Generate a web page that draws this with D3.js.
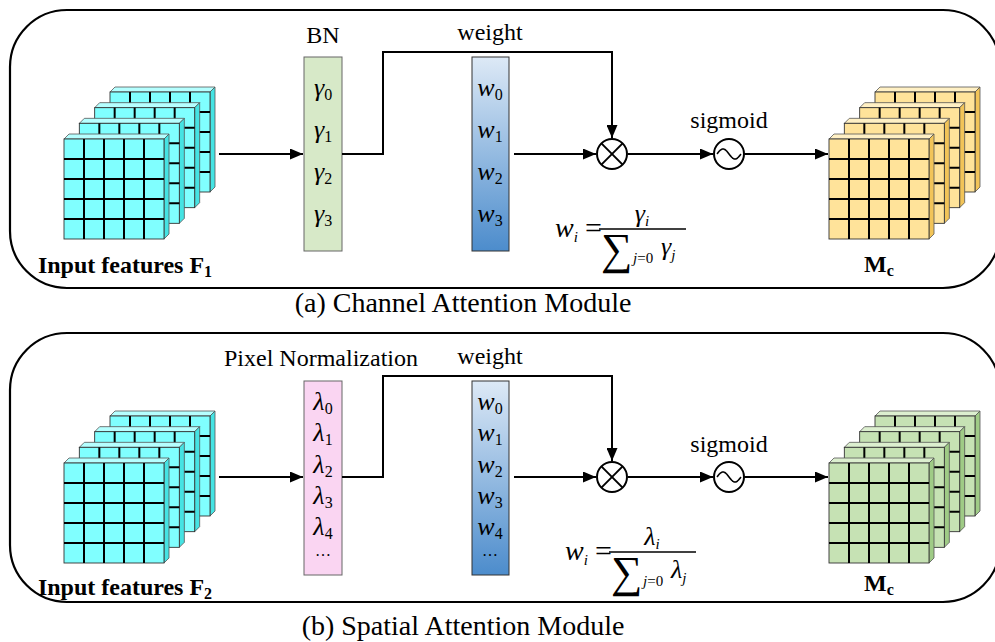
<!DOCTYPE html>
<html>
<head>
<meta charset="utf-8">
<script src="https://cdn.jsdelivr.net/npm/d3@7"></script>
<style>
  body { margin: 0; background: #fff; }
  svg { display: block; }
  text { font-family: "Liberation Serif", "Times New Roman", serif; fill: #000; }
</style>
</head>
<body>
<div id="chart"></div>
<script>
// labels of the two modules
var captions = ["(a) Channel Attention Module", "(b) Spatial Attention Module"];
var normLabels = ["BN", "Pixel Normalization"];
var paramSymbols = ["\u03b3", "\u03bb"];
var channelSubs = ["0", "1", "2", "3"];
var spatialSubs = ["0", "1", "2", "3", "4", "\u2026"];
var inputSubs = ["1", "2"];
var gridIdx = [0, 1, 2, 3, 4];
var layers = [3, 2, 1, 0];

var cyan = {front: "#80ffff", side: "#45e3e3", top: "#b5ffff"};
var yellow = {front: "#ffe39a", side: "#f2c458", top: "#fff0c4"};
var green = {front: "#c6e2b4", side: "#9fcb86", top: "#dcefcf"};

var width = 995, height = 642;

var svg = d3.select("#chart").append("svg")
    .attr("width", width)
    .attr("height", height);

svg.append("rect").attr("width", width).attr("height", height).attr("fill", "#fff");

var defs = svg.append("defs");
defs.append("marker")
    .attr("id", "arr")
    .attr("markerUnits", "userSpaceOnUse")
    .attr("markerWidth", 13).attr("markerHeight", 11)
    .attr("refX", 13).attr("refY", 5.5)
    .attr("orient", "auto")
  .append("path")
    .attr("d", "M0,0L13,5.5L0,11Z")
    .attr("fill", "#000");

var grad = defs.append("linearGradient")
    .attr("id", "wgrad").attr("x1", 0).attr("y1", 0).attr("x2", 0).attr("y2", 1);
grad.append("stop").attr("offset", "0%").attr("stop-color", "#dde9f6");
grad.append("stop").attr("offset", "100%").attr("stop-color", "#4c8ccc");

function cubeStack(g, x0, y0, col) {
  var cell = d3.scaleBand().domain(gridIdx).range([0, 100]);
  var shiftX = d3.scaleLinear().domain([0, 3]).range([0, 46]);
  var shiftY = d3.scaleLinear().domain([0, 3]).range([0, -47]);
  var d = 5, s = 100;
  layers.forEach(function(l) {
    var x = x0 + shiftX(l), y = y0 + shiftY(l);
    var lg = g.append("g");
    lg.append("path")
        .attr("d", "M" + x + "," + y + "L" + (x + d) + "," + (y - d) + "L" + (x + s + d) + "," + (y - d) + "L" + (x + s) + "," + y + "Z")
        .attr("fill", col.top).attr("stroke", "#555").attr("stroke-width", 0.8);
    lg.append("path")
        .attr("d", "M" + (x + s) + "," + y + "L" + (x + s + d) + "," + (y - d) + "L" + (x + s + d) + "," + (y + s - d) + "L" + (x + s) + "," + (y + s) + "Z")
        .attr("fill", col.side).attr("stroke", "#555").attr("stroke-width", 0.8);
    lg.append("rect")
        .attr("x", x).attr("y", y).attr("width", s).attr("height", s)
        .attr("fill", col.front).attr("stroke", "#333").attr("stroke-width", 0.9);
    lg.selectAll("line.v").data(gridIdx.slice(1)).join("line")
        .attr("class", "v")
        .attr("x1", function(i) { return x + cell(i); })
        .attr("x2", function(i) { return x + cell(i); })
        .attr("y1", y).attr("y2", y + s)
        .attr("stroke", "#000").attr("stroke-width", 2);
    lg.selectAll("line.h").data(gridIdx.slice(1)).join("line")
        .attr("class", "h")
        .attr("y1", function(i) { return y + cell(i); })
        .attr("y2", function(i) { return y + cell(i); })
        .attr("x1", x).attr("x2", x + s)
        .attr("stroke", "#000").attr("stroke-width", 2);
  });
}

function paramColumn(g, cx, subs, sym, yScale) {
  subs.forEach(function(s, i) {
    var t = g.append("text").attr("x", cx).attr("text-anchor", "middle");
    if (s === "\u2026") {
      var step = yScale(1) - yScale(0);
      t.attr("y", yScale(i - 1) + step * 0.68).attr("font-size", 16).text(s);
    } else {
      t.attr("y", yScale(i));
      t.append("tspan").attr("font-size", 26).attr("font-style", "italic").text(sym);
      t.append("tspan").attr("font-size", 16).attr("dy", 4).text(s);
    }
  });
}

function arrowLine(g, pts, marker) {
  var p = g.append("path")
      .attr("d", d3.line()(pts))
      .attr("fill", "none").attr("stroke", "#000").attr("stroke-width", 2);
  if (marker) p.attr("marker-end", "url(#arr)");
}

function formula(g, x, y, sym) {
  var t = g.append("text").attr("x", x).attr("y", y + 8);
  t.append("tspan").attr("font-size", 28).attr("font-style", "italic").text("w");
  t.append("tspan").attr("font-size", 15).attr("font-style", "italic").attr("dy", 5).text("i");
  g.append("text").attr("x", x + 30).attr("y", y + 9).attr("font-size", 30).text("=");
  g.append("line").attr("x1", x + 44).attr("x2", x + 131).attr("y1", y).attr("y2", y)
      .attr("stroke", "#000").attr("stroke-width", 1.3);
  var num = g.append("text").attr("x", x + 87).attr("y", y - 7).attr("text-anchor", "middle");
  num.append("tspan").attr("font-size", 26).attr("font-style", "italic").text(sym);
  num.append("tspan").attr("font-size", 15).attr("font-style", "italic").attr("dy", 4).text("i");
  g.append("text").attr("x", x + 46).attr("y", y + 35).attr("font-size", 44).text("\u2211");
  var lim = g.append("text").attr("x", x + 78).attr("y", y + 34).attr("font-size", 15);
  lim.append("tspan").attr("font-style", "italic").text("j");
  lim.append("tspan").text("=0");
  var den = g.append("text").attr("x", x + 106).attr("y", y + 26);
  den.append("tspan").attr("font-size", 26).attr("font-style", "italic").text(sym);
  den.append("tspan").attr("font-size", 15).attr("font-style", "italic").attr("dy", 5).text("j");
}

function multiplier(g, cx, cy, r) {
  g.append("circle").attr("cx", cx).attr("cy", cy).attr("r", r)
      .attr("fill", "#fff").attr("stroke", "#000").attr("stroke-width", 2);
  var k = r * Math.SQRT1_2;
  g.append("line").attr("x1", cx - k).attr("y1", cy - k).attr("x2", cx + k).attr("y2", cy + k)
      .attr("stroke", "#000").attr("stroke-width", 2);
  g.append("line").attr("x1", cx - k).attr("y1", cy + k).attr("x2", cx + k).attr("y2", cy - k)
      .attr("stroke", "#000").attr("stroke-width", 2);
}

function sigmoid(g, cx, cy, r) {
  g.append("circle").attr("cx", cx).attr("cy", cy).attr("r", r)
      .attr("fill", "#fff").attr("stroke", "#000").attr("stroke-width", 2);
  var wave = d3.range(-1, 1.001, 0.05).map(function(t) {
    return [cx + t * (r - 3), cy + 5 * Math.sin(Math.PI * t)];
  });
  g.append("path").attr("d", d3.line().curve(d3.curveBasis)(wave))
      .attr("fill", "none").attr("stroke", "#000").attr("stroke-width", 1.6);
}

function drawModule(k) {
  var oy = k === 0 ? 0 : 324;
  var g = svg.append("g").attr("transform", "translate(0," + oy + ")");
  var subs = k === 0 ? channelSubs : spatialSubs;
  var sym = paramSymbols[k];

  // panel outline
  g.append("rect")
      .attr("x", 10).attr("y", k === 0 ? 10 : 9)
      .attr("width", 990).attr("height", k === 0 ? 278 : 269)
      .attr("rx", 57).attr("ry", 57)
      .attr("fill", "none").attr("stroke", "#000").attr("stroke-width", 2.2);

  cubeStack(g, 64, 139, cyan);
  cubeStack(g, 829, 139, k === 0 ? yellow : green);

  var yRow = k === 0 ? 154 : 153;

  // normalization and weight columns
  g.append("rect").attr("x", 304).attr("y", 57).attr("width", 38).attr("height", 194)
      .attr("fill", k === 0 ? "#d7e9c8" : "#fad5f2").attr("stroke", "#666").attr("stroke-width", 1);
  g.append("rect").attr("x", 472).attr("y", 57).attr("width", 37).attr("height", 194)
      .attr("fill", "url(#wgrad)").attr("stroke", "#333").attr("stroke-width", 1);

  var yScale = k === 0
      ? d3.scaleLinear().domain([0, 3]).range([96, 222])
      : d3.scaleLinear().domain([0, 4]).range([86, 211]);
  paramColumn(g, 323, subs, sym, yScale);
  paramColumn(g, 490, subs, "w", yScale);

  g.append("text").attr("x", k === 0 ? 323 : 321).attr("y", k === 0 ? 43 : 42)
      .attr("text-anchor", "middle").attr("font-size", 24).text(normLabels[k]);
  g.append("text").attr("x", 490).attr("y", 40)
      .attr("text-anchor", "middle").attr("font-size", 24).text("weight");
  g.append("text").attr("x", 729).attr("y", 128)
      .attr("text-anchor", "middle").attr("font-size", 24).text("sigmoid");

  // connections
  arrowLine(g, [[219, yRow], [303, yRow]], true);
  arrowLine(g, [[342, yRow], [383, yRow], [383, 52], [612, 52], [612, yRow - 16]], true);
  arrowLine(g, [[514, yRow], [596, yRow]], true);
  arrowLine(g, [[628, yRow], [713, yRow]], true);
  arrowLine(g, [[744, yRow], [828, yRow]], true);
  multiplier(g, 612, yRow, 15);
  sigmoid(g, 729, yRow, 15);

  formula(g, k === 0 ? 555 : 565, k === 0 ? 229 : 228, sym);

  // labels under the cubes
  var inp = g.append("text").attr("x", 125).attr("y", k === 0 ? 273 : 271)
      .attr("text-anchor", "middle").attr("font-weight", "bold").attr("font-size", 24);
  inp.append("tspan").text("Input features F");
  inp.append("tspan").attr("font-size", 16).attr("dy", 4).text(inputSubs[k]);
  var out = g.append("text").attr("x", 879).attr("y", k === 0 ? 272 : 267)
      .attr("text-anchor", "middle").attr("font-weight", "bold").attr("font-size", 24);
  out.append("tspan").text("M");
  out.append("tspan").attr("font-size", 16).attr("dy", 4).text("c");

  g.append("text").attr("x", 463).attr("y", k === 0 ? 312 : 311)
      .attr("text-anchor", "middle").attr("font-size", 28).text(captions[k]);
}

drawModule(0);
drawModule(1);
</script>
</body>
</html>
